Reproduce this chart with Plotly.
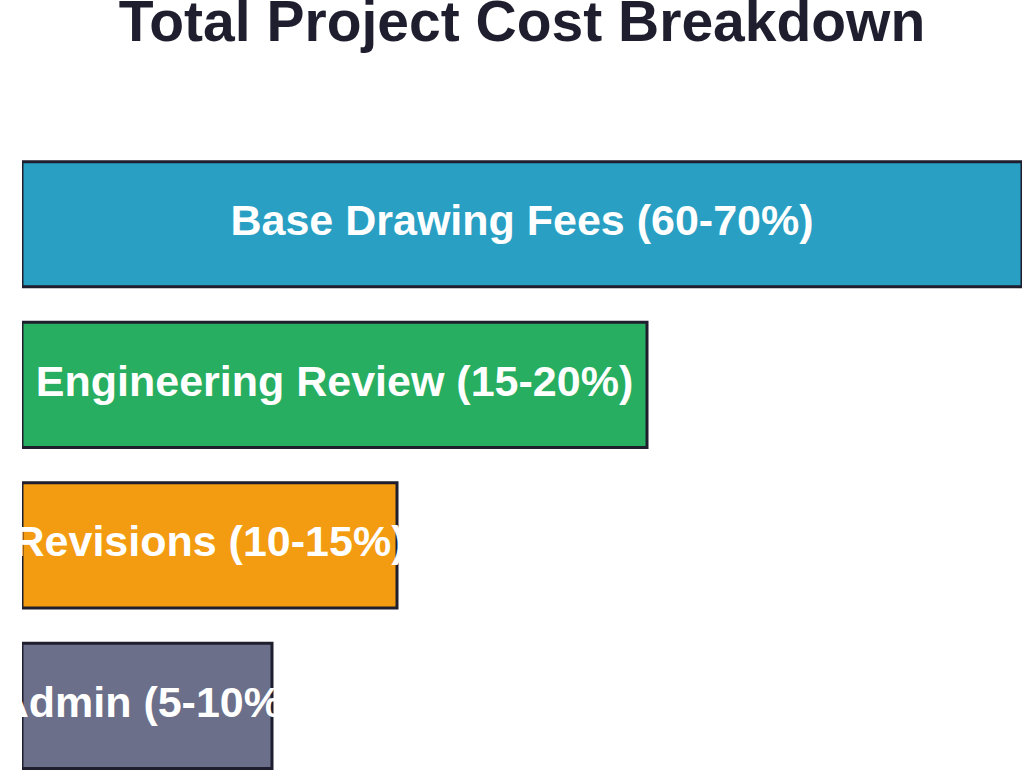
import plotly.graph_objects as go

categories = ["Base Drawing Fees (60-70%)", "Engineering Review (15-20%)",
              "Revisions (10-15%)", "Admin (5-10%)"]
values = [40, 25, 15, 10]
colors = ["#2A9FC4", "#27AE60", "#F39C12", "#6B6F8A"]

fig = go.Figure()
fig.add_trace(go.Bar(
    y=categories,
    x=values,
    orientation="h",
    marker=dict(color=colors, line=dict(color="#1E1E2E", width=3)),
    width=0.78,
    hoverinfo="skip",
))
fig.add_trace(go.Scatter(
    y=categories,
    x=[v / 2 for v in values],
    mode="text",
    text=categories,
    textposition="middle center",
    textfont=dict(family="Liberation Sans", size=43, color="white", weight="bold"),
    cliponaxis=False,
    hoverinfo="skip",
))

fig.update_layout(
    width=1024, height=771,
    margin=dict(l=22, r=2, t=144, b=0),
    paper_bgcolor="white", plot_bgcolor="white",
    showlegend=False,
    title=dict(text="Total Project Cost Breakdown", x=0.5, xref="paper",
               y=0.973, yref="container", yanchor="middle",
               font=dict(family="Liberation Sans", size=57, color="#1E1E2E", weight="bold")),
    xaxis=dict(range=[0, 40], visible=False),
    yaxis=dict(range=[3.406, -0.5], visible=False, type="category"),
)

fig.write_html("out.html")
